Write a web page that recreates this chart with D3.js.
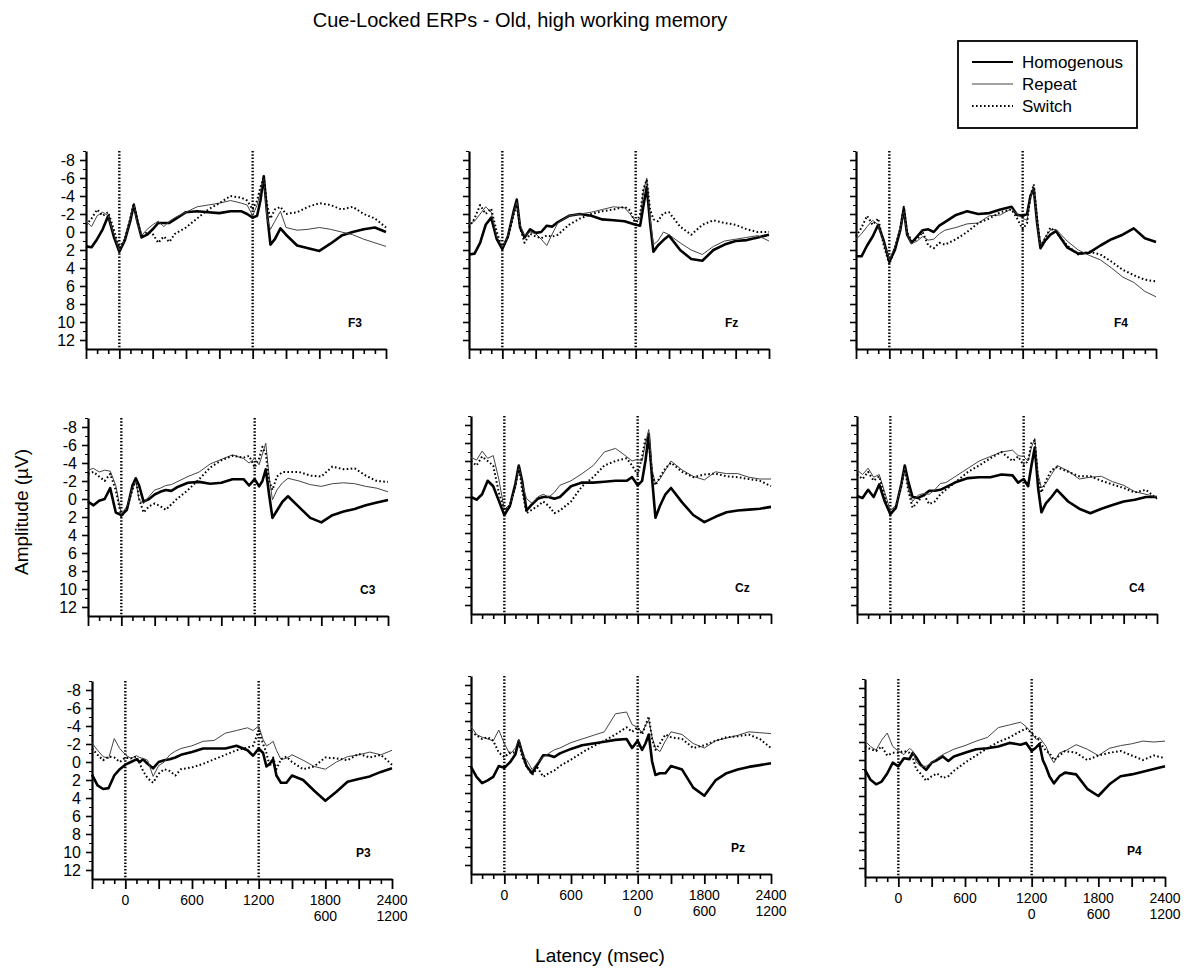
<!DOCTYPE html>
<html>
<head>
<meta charset="utf-8">
<script src="https://cdn.jsdelivr.net/npm/d3@7"></script>
<style>
  body { margin: 0; background: #fff; }
  text { font-family: "Liberation Sans", Arial, sans-serif; }
</style>
</head>
<body>
<script>
// Cue-locked ERPs, 9 electrodes, 3 conditions

const W = 1192, H = 980;

// latency grid (ms) shared by every trace
const times = [-300,-250,-200,-150,-100,-50,0,50,100,130,160,200,250,300,350,400,450,500,
  600,700,800,900,1000,1100,1150,1200,1240,1270,1300,1330,1360,1400,1450,1500,
  1600,1700,1800,1900,2000,2100,2200,2300,2400];

const channels = ["F3","Fz","F4","C3","Cz","C4","P3","Pz","P4"];
const conditions = ["Homogenous","Repeat","Switch"];

// amplitudes (µV), negative up
const f3Hom = [1.6,1.7,0.8,-0.3,-1.8,0.5,2.2,0.9,-1.3,-3.0,-1.3,0.6,0.3,-0.3,-1.0,-1.0,-1.0,-1.4,-2.2,-2.3,-2.2,-2.1,-2.3,-2.3,-2.0,-1.6,-1.8,-3.5,-6.2,-2.0,1.4,0.8,-0.4,0.3,1.5,1.8,2.1,1.3,0.4,0.0,-0.3,-0.5,0.0];
const f3Rep = [-1.2,-0.6,-1.8,-2.2,-1.8,0.2,2.0,0.8,-1.5,-3.2,-1.0,0.4,-0.3,-0.8,-1.2,-0.6,-1.2,-1.6,-2.2,-2.8,-3.0,-3.2,-3.5,-3.2,-3.0,-1.8,-3.0,-4.5,-6.0,-1.5,-0.3,-1.2,-2.3,-0.5,-0.2,-0.3,-0.5,-0.3,0.0,0.3,0.8,1.2,1.6];
const f3Swi = [-0.8,-1.5,-2.5,-1.8,-2.2,-0.3,1.8,0.8,-1.6,-3.2,-1.5,0.6,0.0,0.2,1.2,0.5,1.1,0.2,-0.5,-1.5,-2.5,-3.2,-4.0,-3.8,-3.5,-2.5,-3.5,-5.0,-6.0,-3.0,-1.5,-2.5,-2.8,-2.0,-2.2,-2.8,-3.2,-3.0,-2.5,-2.8,-2.0,-1.5,-0.5];

const fzHom = [2.5,2.4,1.2,-0.8,-1.6,0.8,1.9,0.5,-2.2,-3.6,-0.5,0.6,-0.3,0.1,0.0,-0.7,-0.6,-1.1,-1.8,-2.0,-1.8,-1.4,-1.3,-1.2,-1.0,-0.8,-0.7,-2.9,-5.0,-1.0,2.2,1.5,0.9,0.4,2.0,3.0,3.2,2.0,1.4,1.0,0.9,0.6,0.3];
const fzRep = [-0.9,-1.2,-2.0,-2.8,-2.2,0.5,1.7,0.5,-2.0,-3.3,-0.8,0.4,0.0,0.2,0.8,1.5,0.2,-1.0,-1.8,-2.0,-2.2,-2.5,-2.8,-2.7,-2.0,-1.2,-1.5,-4.5,-6.0,-1.5,1.4,1.0,0.0,0.3,1.2,2.0,2.5,1.6,1.0,0.8,0.6,0.4,1.0];
const fzSwi = [-0.5,-1.5,-3.0,-2.0,-2.6,0.0,1.8,0.6,-1.8,-3.0,-0.5,1.2,0.2,0.5,0.7,0.4,0.5,0.3,-0.8,-1.5,-2.0,-2.3,-2.5,-2.8,-2.4,-0.8,-2.0,-4.8,-5.8,-2.5,-1.4,-1.2,-2.1,-2.2,-0.6,0.3,-0.8,-1.3,-1.0,-0.8,-0.3,0.0,0.0];

const f4Hom = [2.7,2.7,1.5,0.5,-0.8,1.0,3.3,2.0,-0.3,-2.6,0.3,1.2,0.5,-0.2,-0.3,0.0,-0.7,-1.1,-1.9,-2.3,-2.0,-2.1,-2.5,-2.8,-1.9,-1.8,-2.0,-4.0,-4.8,-1.0,1.8,1.0,0.3,-0.1,1.7,2.4,2.3,1.5,0.8,0.3,-0.4,0.7,1.1];
const f4Rep = [0.8,0.2,-0.6,-1.3,-0.8,1.2,3.1,1.6,-0.4,-2.4,0.2,1.3,1.0,0.5,0.9,0.8,0.2,-0.2,-0.5,-0.9,-1.0,-1.8,-1.9,-2.6,-2.0,-1.5,-1.3,-3.8,-5.0,-1.0,1.6,0.6,-0.2,-0.3,1.0,2.0,2.6,3.1,4.0,5.0,5.6,6.6,7.2];
const f4Swi = [0.5,-0.5,-1.8,-0.8,-1.5,1.5,3.6,1.8,-0.5,-2.8,0.0,1.0,0.8,0.0,1.5,1.8,1.2,1.4,0.8,0.0,-1.0,-1.5,-2.2,-2.5,-1.5,-0.3,-1.0,-4.0,-5.3,-1.5,1.5,0.8,-0.5,0.0,1.5,2.5,2.2,2.5,3.3,4.2,4.8,5.3,5.5];

const c3Hom = [0.3,0.7,0.2,0.0,-1.2,1.5,1.8,1.2,-1.5,-2.3,-1.5,0.3,0.0,-0.5,-0.8,-1.0,-0.9,-1.3,-1.8,-1.9,-1.7,-1.8,-2.2,-2.2,-1.5,-2.2,-1.4,-2.0,-3.3,-0.5,2.1,1.3,0.3,-0.3,0.9,2.1,2.6,1.8,1.4,1.1,0.7,0.4,0.1];
const c3Rep = [-3.2,-3.4,-3.0,-3.2,-3.1,-1.5,1.7,0.8,-1.2,-2.0,0.1,0.5,-0.3,-1.0,-1.2,-1.5,-1.6,-1.9,-2.5,-3.0,-3.9,-4.4,-4.9,-4.5,-4.0,-4.5,-3.8,-5.0,-6.2,-2.5,0.1,-1.0,-1.8,-2.3,-2.0,-1.6,-1.4,-1.7,-1.8,-1.7,-1.4,-1.2,-0.8];
const c3Swi = [-2.8,-3.0,-2.5,-2.0,-2.8,-1.0,2.0,1.0,-1.0,-2.3,0.0,1.5,0.8,0.5,0.8,1.2,0.6,0.0,-1.0,-2.2,-3.5,-4.3,-4.8,-4.6,-4.8,-3.5,-4.5,-5.8,-5.0,-2.0,-1.0,-2.5,-3.0,-3.0,-3.0,-2.6,-2.5,-3.6,-3.3,-3.4,-2.6,-2.0,-1.9];

const czHom = [0.0,0.3,-0.3,-1.8,-1.2,0.4,2.0,1.0,-1.5,-3.5,-1.8,1.5,0.8,0.2,0.0,0.0,0.2,0.0,-1.2,-1.6,-1.6,-1.7,-1.8,-1.8,-2.2,-1.3,-1.8,-4.0,-7.0,-2.0,2.3,1.0,-0.3,-1.0,0.6,2.0,2.8,2.2,1.7,1.5,1.4,1.3,1.1];
const czRep = [-4.4,-4.1,-5.1,-4.3,-4.6,-2.0,1.4,0.8,-1.0,-3.5,-1.5,0.2,0.7,0.0,-0.3,0.0,-0.5,-1.3,-1.8,-2.6,-3.5,-5.0,-5.4,-4.5,-4.0,-4.2,-4.0,-6.0,-7.5,-3.0,-1.5,-2.0,-3.0,-4.0,-3.0,-2.3,-1.9,-2.8,-2.6,-2.6,-2.2,-2.0,-2.0];
const czSwi = [-4.0,-3.5,-4.5,-4.0,-3.5,-0.5,1.5,1.0,-1.2,-3.5,-0.8,1.8,1.4,1.0,0.5,1.0,1.8,1.5,0.5,-1.2,-2.2,-3.5,-4.0,-4.3,-3.5,-2.5,-4.5,-6.5,-6.0,-2.5,-1.3,-2.2,-3.2,-3.8,-2.8,-2.2,-2.5,-2.6,-2.3,-2.2,-2.0,-1.8,-1.2];

const c4Hom = [-0.1,0.1,-0.8,0.0,-1.4,0.5,1.9,1.2,-1.5,-3.5,-1.8,0.0,0.1,-0.2,-0.7,-0.7,-0.8,-1.1,-1.7,-2.1,-2.2,-2.2,-2.5,-2.4,-1.6,-2.0,-1.2,-3.5,-5.5,-1.0,1.7,0.7,0.0,-0.8,0.5,1.3,1.8,1.3,0.9,0.5,0.3,0.0,0.0];
const c4Rep = [-3.0,-2.5,-3.2,-2.2,-2.5,-0.5,1.5,0.9,-1.3,-3.3,-1.0,0.5,-0.2,-0.4,-0.3,-0.8,-1.5,-1.6,-2.4,-3.2,-4.0,-4.5,-5.0,-5.2,-4.6,-4.5,-4.0,-5.5,-6.5,-2.5,-1.0,-1.5,-2.5,-3.5,-2.9,-2.0,-2.2,-2.3,-1.7,-1.3,-0.6,-0.3,0.0];
const c4Swi = [-2.5,-2.0,-2.8,-1.8,-2.3,0.0,2.0,1.0,-1.2,-3.3,-0.8,1.2,0.5,-0.3,0.8,0.5,-0.3,-0.8,-1.8,-2.8,-3.5,-4.3,-5.0,-4.0,-4.5,-3.5,-4.0,-6.0,-6.3,-2.0,-0.5,-1.8,-3.0,-3.3,-2.8,-2.3,-2.3,-1.8,-1.4,-1.0,-0.5,-0.8,0.2];

const p3Hom = [1.4,2.6,3.0,2.9,1.5,0.8,0.3,0.0,-0.3,0.0,-0.3,0.2,0.7,0.0,-0.2,-0.3,-0.5,-0.8,-1.1,-1.5,-1.5,-1.5,-1.8,-1.3,-0.7,-1.5,-1.0,0.5,0.2,-0.3,1.5,2.3,2.3,1.5,2.0,3.2,4.3,3.3,2.2,1.9,1.6,1.1,0.7];
const p3Rep = [-2.1,-1.3,-0.6,-0.4,-2.6,-1.5,-0.8,-0.4,-0.7,-0.5,-0.4,-0.2,1.6,0.4,0.0,-0.8,-1.2,-1.5,-1.8,-2.3,-2.4,-3.2,-3.5,-3.8,-3.5,-4.0,-2.5,-1.8,-2.0,-2.3,-1.3,-0.3,-0.4,-0.8,-0.2,0.5,0.8,0.0,-0.6,-0.8,-1.1,-0.8,-1.3];
const p3Swi = [-1.5,-0.8,-0.2,-0.6,-0.5,0.0,-0.5,-0.4,-0.6,0.2,1.0,1.8,2.3,1.3,0.8,1.0,1.5,0.8,0.6,0.2,-0.3,-0.8,-1.3,-1.6,-1.8,-3.5,-2.0,-1.0,0.5,-0.5,0.8,-0.3,-0.6,0.0,0.8,0.5,-0.5,-0.4,-0.2,-0.9,-0.5,-0.8,0.3];

const pzHom = [1.1,2.2,2.9,2.6,2.2,1.0,1.2,0.6,-0.3,-1.8,-0.5,1.0,1.8,0.8,-0.2,-0.2,0.0,-0.4,-0.9,-1.3,-1.5,-1.7,-1.9,-2.0,-1.0,-1.8,-0.8,-1.5,-2.5,0.5,2.0,1.8,1.8,1.0,1.4,3.4,4.3,2.6,1.8,1.4,1.1,0.9,0.7];
const pzRep = [-3.4,-2.5,-2.2,-2.0,-1.8,-3.0,-1.5,-0.3,-1.0,-2.0,-0.2,0.3,1.4,0.6,0.0,-0.4,-0.8,-1.0,-1.6,-2.0,-2.4,-2.8,-4.8,-5.0,-3.6,-3.3,-2.7,-3.5,-4.1,-2.2,-1.0,-0.6,-1.8,-2.8,-2.5,-1.5,-1.0,-1.8,-2.1,-2.4,-2.8,-2.7,-2.6];
const pzSwi = [-2.8,-2.4,-2.0,-2.2,-1.8,-0.5,0.0,-0.5,-0.5,-1.8,0.0,1.0,2.0,1.2,2.2,1.8,1.5,1.0,0.3,-0.5,-1.2,-1.8,-2.5,-3.3,-2.8,-3.3,-2.5,-3.5,-4.5,-2.0,-0.8,-1.5,-2.5,-2.2,-2.0,-1.0,-1.3,-1.8,-2.2,-2.3,-2.5,-2.0,-1.0];

const p4Hom = [1.1,2.2,2.7,2.4,1.5,0.3,0.7,-0.2,-0.1,-0.8,-0.3,0.5,1.1,0.3,0.0,-0.4,0.1,-0.4,-0.8,-1.2,-1.3,-1.5,-1.9,-1.7,-1.9,-1.0,-1.4,-1.8,0.0,0.8,1.8,2.6,1.8,1.4,1.6,3.2,4.0,2.7,1.8,1.6,1.3,1.0,0.7];
const p4Rep = [-2.1,-1.5,-1.1,-2.2,-3.0,-1.5,-1.0,-0.6,-1.3,-1.0,0.2,0.7,0.7,0.3,-0.2,-0.6,-0.9,-1.2,-1.6,-2.1,-2.5,-3.6,-3.9,-4.2,-3.7,-3.0,-2.3,-2.5,-2.0,-1.5,-0.5,0.3,-0.8,-1.0,-1.7,-1.2,-0.5,-1.3,-1.6,-1.8,-2.1,-2.0,-2.1];
const p4Swi = [-1.5,-1.2,-1.0,-1.5,-0.5,-0.8,-0.8,-1.0,-0.8,-0.3,1.0,1.5,2.3,1.8,1.5,2.0,1.8,1.2,0.3,-0.5,-1.3,-2.0,-2.5,-3.2,-3.5,-3.0,-2.5,-2.2,-1.5,-1.0,-0.8,0.0,-0.5,-1.0,-0.8,0.0,-0.5,-0.8,-1.0,-0.5,0.0,-0.5,-0.2];

const seriesByChannel = [
  [f3Hom, f3Rep, f3Swi], [fzHom, fzRep, fzSwi], [f4Hom, f4Rep, f4Swi],
  [c3Hom, c3Rep, c3Swi], [czHom, czRep, czSwi], [c4Hom, c4Rep, c4Swi],
  [p3Hom, p3Rep, p3Swi], [pzHom, pzRep, pzSwi], [p4Hom, p4Rep, p4Swi]
];

const yTicks = [-8,-6,-4,-2,0,2,4,6,8,10,12];
const xTickLabels = [0,600,1200,1800,2400];
const xTickLabels2 = [[null,null,null,600,1200],[null,null,0,600,1200],[null,null,0,600,1200]];
const markers = [0,1200];

// panel origins (top-left), slightly uneven like the scanned figure
const panelPos = [
  [86,151],[469,151],[856,151],
  [88,418],[471,416],[857,416],
  [92,681],[471,676],[865,679]
];
const labelX = [262,256,258, 272,264,272, 264,260,262];
const pw = 300, ph = 198;

const x = d3.scaleLinear().domain([-300,2400]).range([0,pw]);
const y = d3.scaleLinear().domain([-9,13]).range([0,ph]);

const svg = d3.select("body").append("svg")
  .attr("width", W).attr("height", H)
  .style("background", "#fff");

const styles = [
  {w: 2.6, c: "#000", dash: null},
  {w: 1, c: "#444", dash: null},
  {w: 2, c: "#000", dash: "1.6,2.4"}
];

const line = d3.line()
  .x(d => x(d[0]))
  .y(d => y(d[1]));

channels.forEach((ch, i) => {
  const col = i % 3, row = Math.floor(i / 3);
  const g = svg.append("g").attr("transform", `translate(${panelPos[i][0]},${panelPos[i][1]})`);

  // y axis
  const yMinor = g.append("g").call(d3.axisLeft(y).tickValues(d3.range(-9,13,2)).tickSize(3).tickSizeOuter(0).tickFormat(""));
  yMinor.select(".domain").remove();
  const yAx = g.append("g").call(d3.axisLeft(y).tickValues(yTicks).tickSize(6).tickSizeOuter(0)
    .tickFormat(col === 0 ? (d => String(d)) : ""));
  yAx.select(".domain").attr("stroke-width", 2.2);
  yAx.selectAll(".tick line").attr("stroke-width", 1.6);
  yAx.selectAll("text").attr("font-size", 16).attr("x", -11).attr("dy", "0.34em");

  // x axis
  const xMinor = g.append("g").attr("transform", `translate(0,${ph})`)
    .call(d3.axisBottom(x).tickValues(d3.range(-200,2400,100).filter(t => t % 300 !== 0)).tickSize(5).tickSizeOuter(0).tickFormat(""));
  xMinor.select(".domain").remove();
  xMinor.selectAll(".tick line").attr("stroke-width", 1.6);
  const xAx = g.append("g").attr("transform", `translate(0,${ph})`)
    .call(d3.axisBottom(x).tickValues(d3.range(-300,2401,300)).tickSize(10).tickSizeOuter(0).tickFormat(""));
  xAx.select(".domain").attr("stroke-width", 2.2);
  xAx.selectAll(".tick line").attr("stroke-width", 1.8);

  if (row === 2) {
    g.append("g").selectAll("text")
      .data(xTickLabels).join("text")
      .attr("x", d => x(d)).attr("y", ph + 26)
      .attr("text-anchor", "middle").attr("font-size", 14)
      .text(d => d);
    g.append("g").selectAll("text")
      .data(xTickLabels.map((t, k) => [t, xTickLabels2[col][k]]).filter(d => d[1] !== null))
      .join("text")
      .attr("x", d => x(d[0])).attr("y", ph + 42)
      .attr("text-anchor", "middle").attr("font-size", 14)
      .text(d => d[1]);
  }

  // event markers
  g.append("g").selectAll("line")
    .data(markers).join("line")
    .attr("x1", d => x(d)).attr("x2", d => x(d))
    .attr("y1", 0).attr("y2", ph)
    .attr("stroke", "#000").attr("stroke-width", 2.4)
    .attr("stroke-dasharray", "1.5,1.8");

  // traces
  seriesByChannel[i].forEach((vals, k) => {
    const st = styles[k];
    g.append("path")
      .datum(times.map((t, j) => [t, vals[j]]))
      .attr("d", line)
      .attr("fill", "none")
      .attr("stroke", st.c)
      .attr("stroke-width", st.w)
      .attr("stroke-linejoin", "round")
      .attr("stroke-dasharray", st.dash);
  });

  g.append("text")
    .attr("x", labelX[i]).attr("y", ph - 22)
    .attr("font-size", 12).attr("font-weight", "bold")
    .text(ch);
});

// title
svg.append("text")
  .attr("x", 520).attr("y", 27)
  .attr("text-anchor", "middle").attr("font-size", 20)
  .text("Cue-Locked ERPs - Old, high working memory");

// legend
const lg = svg.append("g").attr("transform", "translate(958,41)");
lg.append("rect").attr("width", 179).attr("height", 87)
  .attr("fill", "#fff").attr("stroke", "#000").attr("stroke-width", 1.8);
conditions.forEach((c, k) => {
  const st = styles[k];
  const yy = 21 + k * 22;
  lg.append("line").attr("x1", 14).attr("x2", 55).attr("y1", yy).attr("y2", yy)
    .attr("stroke", st.c).attr("stroke-width", k === 0 ? 2.2 : st.w).attr("stroke-dasharray", st.dash);
  lg.append("text").attr("x", 64).attr("y", yy).attr("dy", "0.35em")
    .attr("font-size", 17).text(c);
});

// axis titles
svg.append("text")
  .attr("transform", "translate(28,512) rotate(-90)")
  .attr("text-anchor", "middle").attr("font-size", 19)
  .text("Amplitude (µV)");

svg.append("text")
  .attr("x", 600).attr("y", 962)
  .attr("text-anchor", "middle").attr("font-size", 19)
  .text("Latency (msec)");
</script>
</body>
</html>
